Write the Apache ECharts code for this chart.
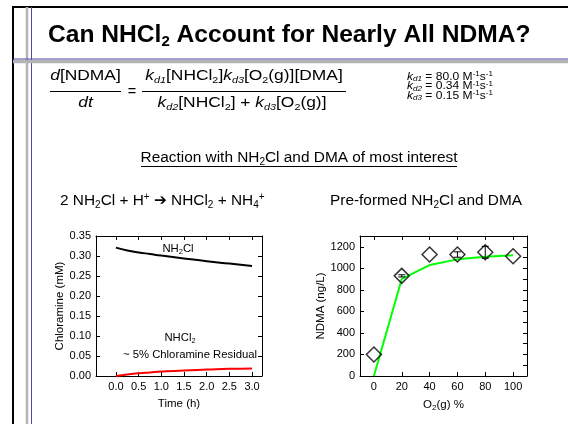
<!DOCTYPE html>
<html><head><meta charset="utf-8">
<script src="https://cdn.jsdelivr.net/npm/echarts@6/dist/echarts.min.js"></script>
<style>html,body{margin:0;padding:0;background:#fff}#c{width:568px;height:424px}</style>
</head><body><div id="c"></div>
<script>
// ---- data ----
const timeH = [0, 0.25, 0.5, 0.75, 1.0, 1.5, 2.0, 2.5, 3.0];
const nh2clMM = [0.321, 0.314, 0.309, 0.305, 0.301, 0.294, 0.287, 0.281, 0.275];
const nhcl2MM = [0.000, 0.004, 0.007, 0.009, 0.011, 0.014, 0.016, 0.018, 0.019];
const timeTicks = [0, 0.5, 1.0, 1.5, 2.0, 2.5, 3.0];
const chlorTicks = [0, 0.05, 0.10, 0.15, 0.20, 0.25, 0.30, 0.35];
const o2Pct = [0, 20, 40, 60, 80, 100];
const ndmaObs = [200, 930, 1128, 1128, 1149, 1112];
const ndmaErr = [0, 10, 0, 25, 55, 0];
const ndmaModel = [0, 901, 1030, 1083, 1108, 1122];
const o2Ticks = [0, 20, 40, 60, 80, 100];
const ndmaTicks = [0, 200, 400, 600, 800, 1000, 1200];
const ndmaMinorTicks = [100, 300, 500, 700, 900, 1100];

const FF = '"Liberation Sans", Arial, sans-serif';
const chart = echarts.init(document.getElementById('c'), null, {renderer: 'canvas'});

function axisBase(extra) {
  return Object.assign({
    axisLine: {show: true, onZero: false, lineStyle: {color: '#000', width: 1}},
    splitLine: {show: false},
    nameTextStyle: {color: '#000', fontFamily: FF, fontSize: 11.5}
  }, extra);
}
function ticksCfg(vals, show, fmt) {
  return {
    axisTick: {show: true, inside: true, length: 4, customValues: vals, lineStyle: {color: '#000'}},
    axisLabel: {show: show, customValues: vals, color: '#000', fontFamily: FF, fontSize: 11, margin: 5, formatter: fmt}
  };
}

const subRich = {
  sub: {fontSize: 8, lineHeight: 7, verticalAlign: 'bottom', fontFamily: FF, color: '#000'},
  n: {fontSize: 11.5, lineHeight: 14, fontFamily: FF, color: '#000'}
};

const xAxes = [
  axisBase(Object.assign({type: 'value', gridIndex: 0, min: -0.44, max: 3.22, position: 'bottom',
    name: 'Time (h)', nameLocation: 'middle', nameGap: 22}, ticksCfg(timeTicks, true, v => v.toFixed(1)))),
  axisBase(Object.assign({type: 'value', gridIndex: 0, min: -0.44, max: 3.22, position: 'top'}, ticksCfg(timeTicks, false))),
  axisBase(Object.assign({type: 'value', gridIndex: 1, min: -10, max: 110, position: 'bottom',
    name: '{n|O}{sub|2}{n|(g) %}', nameLocation: 'middle', nameGap: 22,
    nameTextStyle: {rich: subRich, color: '#000', fontFamily: FF, fontSize: 11.5}}, ticksCfg(o2Ticks, true, v => String(v)))),
  axisBase(Object.assign({type: 'value', gridIndex: 1, min: -10, max: 110, position: 'top'}, ticksCfg(o2Ticks, false)))
];
const yAxes = [
  axisBase(Object.assign({type: 'value', gridIndex: 0, min: 0, max: 0.35, position: 'left',
    name: 'Chloramine (mM)', nameLocation: 'middle', nameGap: 28}, ticksCfg(chlorTicks, true, v => v.toFixed(2)))),
  axisBase(Object.assign({type: 'value', gridIndex: 0, min: 0, max: 0.35, position: 'right'}, ticksCfg(chlorTicks, false))),
  axisBase(Object.assign({type: 'value', gridIndex: 1, min: 0, max: 1300, position: 'left',
    name: 'NDMA (ng/L)', nameLocation: 'middle', nameGap: 32}, ticksCfg(ndmaTicks, true, v => String(v)))),
  axisBase(Object.assign({type: 'value', gridIndex: 1, min: 0, max: 1300, position: 'right'},
    ticksCfg(ndmaTicks.concat(ndmaMinorTicks), false)))
];

function txt(x, y, text, opts, extra) {
  return Object.assign({type: 'text', x: x, y: y, silent: true, style: Object.assign({
    text: text, fill: '#000', font: '10px ' + FF, fontFamily: FF,
    textAlign: 'left', textVerticalAlign: 'middle', align: 'left', verticalAlign: 'middle'
  }, opts || {})}, extra || {});
}
function ln(x1, y1, x2, y2, color, w) {
  return {type: 'line', silent: true, shape: {x1, y1, x2, y2}, style: {stroke: color, lineWidth: w}};
}

const eqRich = {
  i: {fontSize: 14.5, lineHeight: 18, fontStyle: 'italic', fontFamily: FF, color: '#000'},
  n: {fontSize: 14.5, lineHeight: 18, fontFamily: FF, color: '#000'},
  ks: {fontSize: 9, lineHeight: 9, fontStyle: 'italic', verticalAlign: 'bottom', fontFamily: FF, color: '#000'},
  s: {fontSize: 9, lineHeight: 9, verticalAlign: 'bottom', fontFamily: FF, color: '#000'}
};
const cRich = {
  i: {fontSize: 10.5, lineHeight: 12, fontStyle: 'italic', fontFamily: FF, color: '#000'},
  n: {fontSize: 10.5, lineHeight: 12, fontFamily: FF, color: '#000'},
  ks: {fontSize: 7, lineHeight: 6, fontStyle: 'italic', verticalAlign: 'bottom', fontFamily: FF, color: '#000'},
  sp: {fontSize: 7, lineHeight: 6, verticalAlign: 'top', fontFamily: FF, color: '#000'}
};
const bRich = {
  n: {fontSize: 15.4, lineHeight: 18, fontFamily: FF, color: '#000'},
  a: {fontSize: 15.4, lineHeight: 18, fontWeight: 'bold', fontFamily: '"DejaVu Sans", sans-serif', color: '#000'},
  s: {fontSize: 10, lineHeight: 9, verticalAlign: 'bottom', fontFamily: FF, color: '#000'},
  p: {fontSize: 10, lineHeight: 9, verticalAlign: 'top', fontFamily: FF, color: '#000'}
};
const tRich = {
  b: {fontSize: 24.6, lineHeight: 28, fontWeight: 'bold', fontFamily: FF, color: '#000'},
  s: {fontSize: 15, lineHeight: 14, fontWeight: 'bold', verticalAlign: 'bottom', fontFamily: FF, color: '#000'}
};
const lRich = {
  n: {fontSize: 11.3, lineHeight: 14, fontFamily: FF, color: '#000'},
  s: {fontSize: 7.5, lineHeight: 7, verticalAlign: 'bottom', fontFamily: FF, color: '#000'}
};
const EQS = {scaleX: 1.2};
const CS = {scaleX: 1.15};

const graphics = [
  // slide frame
  ln(13, 7, 568, 7, '#000', 2),
  ln(13, 6, 13, 424, '#000', 2),
  ln(27, 7, 27, 424, '#b4b4b4', 2.5),
  ln(31.5, 7, 31.5, 424, '#4a4aa8', 1),
  ln(13, 61.5, 568, 61.5, '#b4b4b4', 3.5),
  ln(13, 59, 568, 59, '#4a4aa8', 1),
  // title
  txt(48, 35, '{b|Can NHCl}{s|2}{b| Account for Nearly All NDMA?}', {rich: tRich}),
  // equation
  txt(85.5, 76, '{i|d}{n|[NDMA]}', {rich: eqRich, align: 'center', textAlign: 'center'}, EQS),
  ln(50, 91.5, 121, 91.5, '#000', 1),
  txt(85.5, 103, '{i|dt}', {rich: eqRich, align: 'center', textAlign: 'center'}, EQS),
  txt(132, 92, '{n|=}', {rich: eqRich, align: 'center', textAlign: 'center'}),
  txt(244, 76, '{i|k}{ks|d1}{n|[NHCl}{s|2}{n|]}{i|k}{ks|d3}{n|[O}{s|2}{n|(g)][DMA]}', {rich: eqRich, align: 'center', textAlign: 'center'}, EQS),
  ln(142, 91.5, 346, 91.5, '#000', 1),
  txt(242, 103, '{i|k}{ks|d2}{n|[NHCl}{s|2}{n|] + }{i|k}{ks|d3}{n|[O}{s|2}{n|(g)]}', {rich: eqRich, align: 'center', textAlign: 'center'}, EQS),
  // constants
  txt(407, 77, '{i|k}{ks|d1}{n| = 80.0 M}{sp|-1}{n|s}{sp|-1}', {rich: cRich}, CS),
  txt(407, 86.5, '{i|k}{ks|d2}{n| = 0.34 M}{sp|-1}{n|s}{sp|-1}', {rich: cRich}, CS),
  txt(407, 96, '{i|k}{ks|d3}{n| = 0.15 M}{sp|-1}{n|s}{sp|-1}', {rich: cRich}, CS),
  // subtitle
  txt(299, 158, '{n|Reaction with NH}{s|2}{n|Cl and DMA of most interest}', {rich: bRich, align: 'center', textAlign: 'center'}),
  ln(141, 166.5, 457, 166.5, '#000', 1),
  txt(60, 201, '{n|2 NH}{s|2}{n|Cl + H}{p|+}{n| }{a|\u2794}{n| NHCl}{s|2}{n| + NH}{s|4}{p|+}', {rich: bRich}),
  txt(330, 201, '{n|Pre-formed NH}{s|2}{n|Cl and DMA}', {rich: bRich}),
  // chart annotations
  txt(178, 249, '{n|NH}{s|2}{n|Cl}', {rich: lRich, align: 'center', textAlign: 'center'}),
  txt(180, 338, '{n|NHCl}{s|2}', {rich: lRich, align: 'center', textAlign: 'center'}),
  txt(190, 355, '{n|~ 5% Chloramine Residual}', {rich: lRich, align: 'center', textAlign: 'center'})
];

const option = {
  backgroundColor: '#fff',
  animation: false,
  textStyle: {fontFamily: FF},
  grid: [
    {left: 96, top: 236, width: 166, height: 140},
    {left: 360, top: 236, width: 167, height: 140}
  ],
  xAxis: xAxes,
  yAxis: yAxes,
  graphic: graphics,
  series: [
    {type: 'line', xAxisIndex: 0, yAxisIndex: 0, smooth: true, symbol: 'none',
      lineStyle: {color: '#000', width: 2}, data: timeH.map((t, i) => [t, nh2clMM[i]])},
    {type: 'line', xAxisIndex: 0, yAxisIndex: 0, smooth: true, symbol: 'none',
      lineStyle: {color: '#ff0000', width: 2}, data: timeH.map((t, i) => [t, nhcl2MM[i]])},
    {type: 'line', xAxisIndex: 2, yAxisIndex: 2, symbol: 'none', z: 3,
      lineStyle: {color: '#00ff00', width: 2}, data: o2Pct.map((x, i) => [x, ndmaModel[i]])},
    {type: 'custom', xAxisIndex: 2, yAxisIndex: 2, z: 4,
      data: o2Pct.map((x, i) => [x, ndmaObs[i] - ndmaErr[i], ndmaObs[i] + ndmaErr[i]]),
      renderItem: function (params, api) {
        if (api.value(2) - api.value(1) <= 0) return null;
        const lo = api.coord([api.value(0), api.value(1)]);
        const hi = api.coord([api.value(0), api.value(2)]);
        const w = 3.5;
        return {type: 'group', children: [
          {type: 'line', shape: {x1: lo[0], y1: lo[1], x2: hi[0], y2: hi[1]}, style: {stroke: '#000', lineWidth: 1}},
          {type: 'line', shape: {x1: lo[0] - w, y1: lo[1], x2: lo[0] + w, y2: lo[1]}, style: {stroke: '#000', lineWidth: 1}},
          {type: 'line', shape: {x1: hi[0] - w, y1: hi[1], x2: hi[0] + w, y2: hi[1]}, style: {stroke: '#000', lineWidth: 1}}
        ]};
      }},
    {type: 'scatter', xAxisIndex: 2, yAxisIndex: 2, symbol: 'diamond', symbolSize: 15, z: 5,
      itemStyle: {color: 'rgba(255,255,255,0)', borderColor: '#000', borderWidth: 1.5},
      data: o2Pct.map((x, i) => [x, ndmaObs[i]])}
  ]
};
chart.setOption(option);
</script></body></html>
